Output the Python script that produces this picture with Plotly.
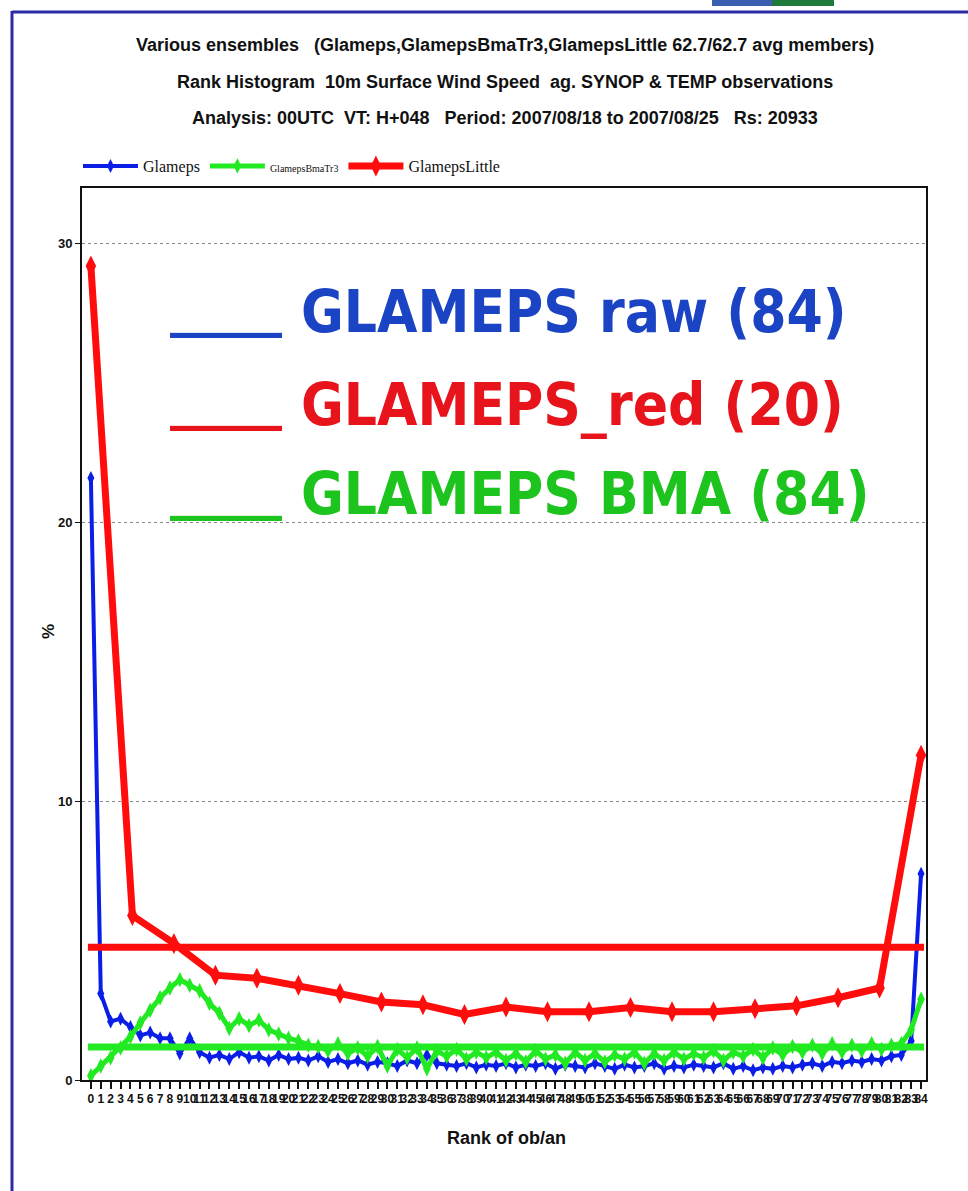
import numpy as np
import plotly.graph_objects as go

# ---------------- data ----------------
ranks = list(range(85))
tick_labels = [str(r) for r in ranks]

glameps = [21.6, 3.1, 2.1, 2.2, 1.9, 1.6, 1.7, 1.5, 1.5,
           0.95, 1.5, 1.0, 0.8, 0.9, 0.75, 1.0, 0.8, 0.85, 0.7, 0.9, 0.75,
           0.8, 0.7, 0.85, 0.65, 0.75, 0.6, 0.7, 0.55, 0.65, 0.6, 0.5, 0.7, 0.6, 0.9,
           0.6, 0.55, 0.5, 0.6, 0.45, 0.55,
           0.5, 0.6, 0.45, 0.55, 0.5, 0.6, 0.4, 0.55, 0.5, 0.45, 0.6, 0.5, 0.4, 0.55,
           0.45, 0.5, 0.6, 0.4, 0.5, 0.45,
           0.55, 0.5, 0.45, 0.6, 0.4, 0.5, 0.35, 0.45, 0.4, 0.5, 0.45, 0.55, 0.6, 0.5,
           0.65, 0.6, 0.7, 0.65, 0.75, 0.7, 0.85, 0.9,
           1.4, 7.4]

glameps_bma = [0.15, 0.5, 0.8, 1.15, 1.55, 2.05, 2.5, 2.95, 3.3, 3.6, 3.4, 3.2, 2.75,
               2.4, 1.85, 2.2, 1.95, 2.15, 1.8, 1.65, 1.5, 1.4,
               1.25, 1.2, 1.05, 1.3, 0.95, 1.15, 0.85, 1.2, 0.5, 1.1, 0.8, 1.15, 0.4,
               1.05, 0.85, 1.1, 0.75, 1.0, 0.8,
               1.0, 0.7, 0.95, 0.65, 1.05, 0.75, 0.9, 0.6, 1.0, 0.7, 0.95, 0.65, 0.9,
               0.75, 1.0, 0.6, 0.95, 0.7, 1.0, 0.75,
               0.95, 0.8, 1.05, 0.7, 1.0, 0.85, 1.1, 0.8, 1.15, 0.9, 1.2, 1.0, 1.25,
               0.95, 1.3, 1.0, 1.25, 1.05, 1.3, 1.1, 1.25, 1.3,
               1.8, 2.9]

little_ranks = list(range(21))
glameps_little = [29.2, 5.9, 4.9, 3.76, 3.65, 3.4, 3.1, 2.8, 2.7, 2.35, 2.62,
                  2.45, 2.45, 2.6, 2.45, 2.45, 2.56, 2.66, 2.95, 3.3, 11.65]

expected_little = 4.76   # flat histogram level, 21 ranks
expected_large = 1.18    # flat histogram level, 85 ranks

title_lines = [
    "Various ensembles   (Glameps,GlamepsBmaTr3,GlamepsLittle 62.7/62.7 avg members)",
    "Rank Histogram  10m Surface Wind Speed  ag. SYNOP &amp; TEMP observations",
    "Analysis: 00UTC  VT: H+048   Period: 2007/08/18 to 2007/08/25   Rs: 20933",
]
big_labels = ["GLAMEPS raw (84)", "GLAMEPS_red (20)", "GLAMEPS BMA (84)"]

# ---------------- styling ----------------
W, H = 968, 1191
L, R, T, B = 82, 42, 188, 111
PW, PH = W - L - R, H - T - B

BLUE = "#0a1ee6"
GREEN = "#22ea22"
RED = "#ff0d0d"
TXT_BLUE = "#1a44c4"
TXT_RED = "#e8141c"
TXT_GREEN = "#1ec41e"
SANS = "Liberation Sans, Arial, sans-serif"
BIG = "DejaVu Sans Condensed, DejaVu Sans"


def px_x(px):
    return (px - L) / PW


def px_y(py):
    return (H - B - py) / PH


# red ensemble has 21 ranks spread over the same 0..84 axis
little_x = np.array(little_ranks) * (ranks[-1] / little_ranks[-1])

fig = go.Figure()

fig.add_trace(go.Scatter(
    x=ranks, y=glameps, name="Glameps", mode="lines+markers",
    line=dict(color=BLUE, width=4),
    marker=dict(symbol="diamond-tall", size=10, color=BLUE),
    cliponaxis=False))

fig.add_trace(go.Scatter(
    x=ranks, y=glameps_bma,
    name="<span style='font-size:10px'>GlamepsBmaTr3</span>",
    mode="lines+markers",
    line=dict(color=GREEN, width=5),
    marker=dict(symbol="diamond-tall", size=11, color=GREEN),
    cliponaxis=False))

fig.add_trace(go.Scatter(
    x=[ranks[0] - 0.3, ranks[-1] + 0.3], y=[expected_large, expected_large],
    mode="lines", line=dict(color=GREEN, width=7), showlegend=False,
    hoverinfo="skip"))

fig.add_trace(go.Scatter(
    x=[ranks[0] - 0.3, ranks[-1] + 0.3], y=[expected_little, expected_little],
    mode="lines", line=dict(color=RED, width=7), showlegend=False,
    hoverinfo="skip"))

fig.add_trace(go.Scatter(
    x=little_x, y=glameps_little, name="GlamepsLittle", mode="lines+markers",
    line=dict(color=RED, width=7),
    marker=dict(symbol="diamond-tall", size=15, color=RED),
    cliponaxis=False))

annotations = []
for txt, yy in zip(title_lines, [45, 82, 118]):
    annotations.append(dict(
        text=txt, x=px_x(505), y=px_y(yy), xref="paper", yref="paper",
        xanchor="center", yanchor="middle", showarrow=False,
        font=dict(family=SANS, size=18, color="#111", weight="bold")))

for txt, col, yy, yu in zip(big_labels, [TXT_BLUE, TXT_RED, TXT_GREEN],
                            [312, 405, 494], [305, 398, 488]):
    annotations.append(dict(
        text="____", x=px_x(168), y=px_y(yu), xref="paper", yref="paper",
        xanchor="left", yanchor="middle", showarrow=False,
        font=dict(family="DejaVu Sans", size=56, color=col, weight="bold")))
    annotations.append(dict(
        text=txt, x=px_x(299), y=px_y(yy), xref="paper", yref="paper",
        xanchor="left", yanchor="middle", showarrow=False,
        font=dict(family=BIG, size=58, color=col, weight="bold")))

annotations.append(dict(
    text="Rank of ob/an", x=px_x(506), y=px_y(1138), xref="paper", yref="paper",
    xanchor="center", yanchor="middle", showarrow=False,
    font=dict(family=SANS, size=18, color="#111", weight="bold")))
annotations.append(dict(
    text="%", x=px_x(48), y=px_y(632), xref="paper", yref="paper",
    xanchor="center", yanchor="middle", showarrow=False, textangle=-90,
    font=dict(family=SANS, size=17, color="#111", weight="bold")))

shapes = [
    dict(type="line", xref="paper", yref="paper", x0=px_x(12), x1=px_x(968),
         y0=px_y(12), y1=px_y(12), line=dict(color="#2b2ba6", width=3)),
    dict(type="line", xref="paper", yref="paper", x0=px_x(12), x1=px_x(12),
         y0=px_y(11), y1=px_y(1191), line=dict(color="#2b2ba6", width=3)),
    dict(type="rect", xref="paper", yref="paper", x0=px_x(712), x1=px_x(772),
         y0=px_y(0), y1=px_y(6), fillcolor="#3a5fb0", line=dict(width=0)),
    dict(type="rect", xref="paper", yref="paper", x0=px_x(772), x1=px_x(834),
         y0=px_y(0), y1=px_y(6), fillcolor="#1e7a3a", line=dict(width=0)),
]

fig.update_layout(
    width=W, height=H,
    margin=dict(l=L, r=R, t=T, b=B, pad=0, autoexpand=False),
    paper_bgcolor="white", plot_bgcolor="white",
    showlegend=True,
    legend=dict(orientation="h", xref="container", yref="container",
                x=78 / W, y=1 - 166 / H, xanchor="left", yanchor="middle",
                font=dict(family="Liberation Serif, serif", size=16, color="#111"),
                bgcolor="rgba(0,0,0,0)", itemwidth=55, tracegroupgap=0),
    xaxis=dict(range=[-0.9, 84.5], tickmode="array", tickvals=ranks,
               ticktext=tick_labels, tickangle=0, ticks="outside", ticklen=7,
               tickwidth=1.5, tickcolor="#111", showline=True, linecolor="#111",
               linewidth=2, mirror=True, showgrid=False, zeroline=False,
               tickfont=dict(family=SANS, size=12, color="#111", weight="bold")),
    yaxis=dict(range=[0, 32], tickmode="array", tickvals=[0, 10, 20, 30],
               ticks="outside", ticklen=5, tickcolor="#111", showline=True,
               linecolor="#111", linewidth=2, mirror=True, showgrid=True,
               gridcolor="#888", griddash="dot", gridwidth=1, zeroline=False,
               tickfont=dict(family=SANS, size=13, color="#111", weight="bold")),
    annotations=annotations, shapes=shapes,
)

fig.write_html("out.html")
